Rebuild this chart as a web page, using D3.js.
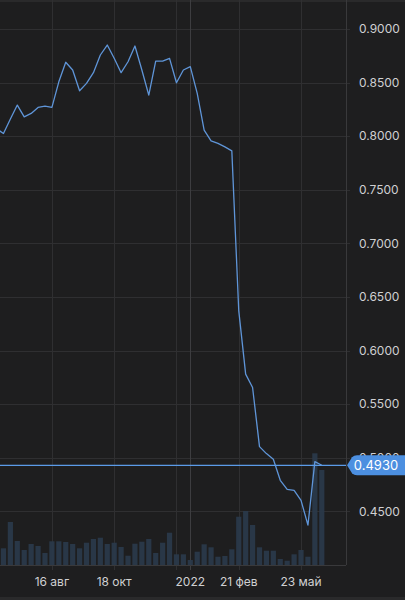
<!DOCTYPE html>
<html>
<meta charset="utf-8">
<script src="https://d3js.org/d3.v7.min.js"></script>
<style>
  body { margin: 0; background: #1e1e1f; }
  text { font-family: Inter, Roboto, "Noto Sans", sans-serif; }
</style>
<body>
<div id="vis"></div>
<script>

// weekly closes (first week is partly off the left edge)
var dates = ["2021-06-21","2021-06-28","2021-07-05","2021-07-12","2021-07-19","2021-07-26","2021-08-02","2021-08-09",
  "2021-08-16","2021-08-23","2021-08-30","2021-09-06","2021-09-13","2021-09-20","2021-09-27","2021-10-04",
  "2021-10-11","2021-10-18","2021-10-25","2021-11-01","2021-11-08","2021-11-15","2021-11-22","2021-11-29",
  "2021-12-06","2021-12-13","2021-12-20","2021-12-27","2022-01-03","2022-01-10","2022-01-17","2022-01-24",
  "2022-01-31","2022-02-07","2022-02-14","2022-02-21","2022-03-28","2022-04-04","2022-04-11","2022-04-18",
  "2022-04-25","2022-05-02","2022-05-09","2022-05-16","2022-05-23","2022-05-30","2022-06-06","2022-06-13"];

var closes = [0.8069, 0.8025, 0.8160, 0.8290, 0.8180, 0.8212, 0.8268, 0.8280,
  0.8268, 0.8507, 0.8689, 0.8617, 0.8423, 0.8492, 0.8592, 0.8757,
  0.8850, 0.8726, 0.8592, 0.8694, 0.8841, 0.8617, 0.8383, 0.8700,
  0.8700, 0.8726, 0.8498, 0.8617, 0.8648, 0.8399, 0.8056, 0.7956,
  0.7932, 0.7900, 0.7863, 0.6373, 0.5780, 0.5656, 0.5104, 0.5039,
  0.4986, 0.4790, 0.4705, 0.4696, 0.4603, 0.4372, 0.4964, 0.4930];

var volumes = [20, 16.7, 43, 24, 15, 21, 19, 12,
  23.7, 23.7, 23, 21, 16.7, 22.3, 26, 27.3,
  21, 22.3, 18, 9.3, 21.3, 23.3, 26, 12,
  22.3, 32.3, 10.7, 10.7, 5, 13.3, 20.7, 17.7,
  8.3, 9, 15.7, 48.3, 54, 40, 17.7, 14.3,
  14.3, 6, 4.3, 10.7, 15, 8.3, 111.7, 95];

var priceTicks = [0.45, 0.50, 0.55, 0.60, 0.65, 0.70, 0.75, 0.80, 0.85, 0.90];
var timeTicks = ["2021-08-16","2021-10-18","2021-12-20","2022-01-03","2022-02-21","2022-05-23"];
var timeLabels = ["16 авг","18 окт","","2022","21 фев","23 май"];
var lastPrice = 0.4930;

var W = 405, H = 600,
    plotW = 346, plotH = 565;

var svg = d3.select("#vis").append("svg")
  .attr("width", W).attr("height", H);

svg.append("rect").attr("width", W).attr("height", H).attr("fill", "#1e1e1f");
// faint edge strips of the screenshot
svg.append("rect").attr("width", W).attr("height", 2).attr("fill", "#2a2a2b");
svg.append("rect").attr("y", 597).attr("width", W).attr("height", 3).attr("fill", "#2a2a2b");

var x = d3.scaleLinear().domain([0.5, 50.5]).range([0, plotW]);
var y = d3.scaleLinear().domain([0.40, 0.927]).range([plotH, 0]);
var yVol = d3.scaleLinear().domain([0, d3.max(volumes)]).range([plotH, plotH - 111.7]);

var defs = svg.append("defs");
defs.append("clipPath").attr("id", "clip")
  .append("rect").attr("width", plotW).attr("height", plotH);

// horizontal grid + right axis
svg.append("g")
  .selectAll("line")
  .data(priceTicks)
  .join("line")
    .attr("x1", 0).attr("x2", plotW + 4)
    .attr("y1", function(d) { return Math.round(y(d)) + 0.5; })
    .attr("y2", function(d) { return Math.round(y(d)) + 0.5; })
    .attr("stroke", "#2f2f31").attr("stroke-width", 1);

// vertical grid
svg.append("g")
  .selectAll("line")
  .data(timeTicks)
  .join("line")
    .attr("x1", function(d) { return Math.round(x(dates.indexOf(d))) + 0.5; })
    .attr("x2", function(d) { return Math.round(x(dates.indexOf(d))) + 0.5; })
    .attr("y1", 0).attr("y2", plotH + 5)
    .attr("stroke", function(d, i) { return timeLabels[i] == "2022" ? "#3d3d40" : "#2f2f31"; })
    .attr("stroke-width", 1);

// plot border
svg.append("line").attr("x1", plotW + 0.5).attr("x2", plotW + 0.5).attr("y1", 0).attr("y2", plotH)
  .attr("stroke", "#39393b");
svg.append("line").attr("x1", 0).attr("x2", plotW).attr("y1", plotH + 0.5).attr("y2", plotH + 0.5)
  .attr("stroke", "#39393b");

var plot = svg.append("g").attr("clip-path", "url(#clip)");

// volume bars
plot.append("g")
  .selectAll("rect")
  .data(volumes)
  .join("rect")
    .attr("x", function(d, i) { return x(i) - 2.6; })
    .attr("width", 5.2)
    .attr("y", function(d) { return yVol(d); })
    .attr("height", function(d) { return plotH - yVol(d); })
    .attr("fill", "#2a3a4b")
    .attr("opacity", 0.9);

// price axis labels
svg.append("g")
  .selectAll("text")
  .data(priceTicks)
  .join("text")
    .attr("x", 359)
    .attr("y", function(d) { return y(d); })
    .attr("dy", "0.35em")
    .attr("fill", "#d0d0d2")
    .style("font-size", "12px")
    .text(d3.format(".4f"));

// time axis labels
svg.append("g")
  .selectAll("text")
  .data(timeTicks)
  .join("text")
    .attr("x", function(d) { return x(dates.indexOf(d)); })
    .attr("y", 586)
    .attr("text-anchor", "middle")
    .attr("fill", "#d0d0d2")
    .style("font-size", "12px")
    .text(function(d, i) { return timeLabels[i]; });

// last price line
svg.append("line")
  .attr("x1", 0).attr("x2", plotW)
  .attr("y1", y(lastPrice)).attr("y2", y(lastPrice))
  .attr("stroke", "#5b9be8").attr("stroke-width", 1.3);

// price line
var line = d3.line()
  .x(function(d, i) { return x(i); })
  .y(function(d) { return y(d); });

plot.append("path")
  .datum(closes)
  .attr("d", line)
  .attr("fill", "none")
  .attr("stroke", "#5f95d8")
  .attr("stroke-width", 1.3)
  .attr("stroke-linejoin", "round");

// last price badge
var py = y(lastPrice);
svg.append("path")
  .attr("d", "M" + 347 + "," + py +
    " L" + 352 + "," + (py - 8) + " Q354," + (py - 10) + " 357," + (py - 10) +
    " L" + 405 + "," + (py - 10) + " L405," + (py + 10) +
    " L357," + (py + 10) + " Q354," + (py + 10) + " 352," + (py + 8) + " Z")
  .attr("fill", "#4c8fe0");
svg.append("text")
  .attr("x", 376).attr("y", py)
  .attr("dy", "0.36em")
  .attr("text-anchor", "middle")
  .attr("fill", "#ffffff")
  .style("font-size", "13px")
  .text(d3.format(".4f")(lastPrice));

</script>
</body>
</html>
